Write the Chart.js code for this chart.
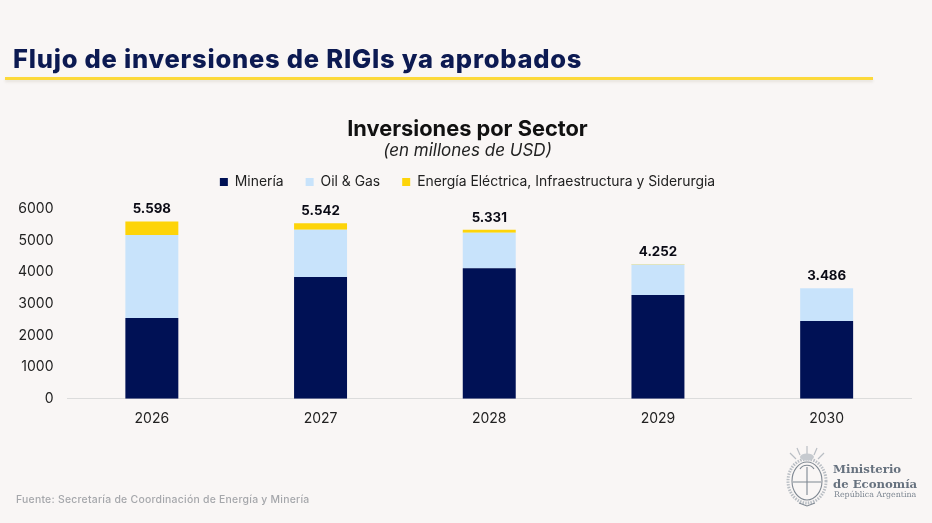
<!DOCTYPE html>
<html lang="es">
<head>
<meta charset="utf-8">
<title>Flujo de inversiones de RIGIs ya aprobados</title>
<script src="https://cdn.jsdelivr.net/npm/chart.js@4"></script>
<style>
html,body{margin:0;padding:0;width:932px;height:523px;overflow:hidden;background:#f9f6f5;font-family:Inter,"Open Sans",sans-serif}
#c{position:absolute;left:0;top:0}
#h{position:absolute;left:13px;top:43px;font:800 25.5px Inter,sans-serif;color:#0c1a52;white-space:nowrap;letter-spacing:.77px}
#rule{position:absolute;left:5px;top:77px;width:868px;height:3px;background:#fcd93a;box-shadow:0 2px 3px rgba(120,110,80,.14)}
#src{position:absolute;left:16px;top:493px;font:500 10.4px Inter,sans-serif;color:#a5a7ab;letter-spacing:.26px;white-space:nowrap}
#logo{position:absolute;left:785px;top:445px}
#m1,#m2,#m3{position:absolute;left:833px;font-family:"DejaVu Serif","Liberation Serif",serif;color:#67727f;white-space:nowrap}
#m1,#m2{font-weight:700;font-size:11.7px}
#m1{top:462px}#m2{top:477px}#m3{top:490px;font-size:7.9px;color:#7b8590;left:834px}
</style>
</head>
<body>
<canvas id="c" width="932" height="523"></canvas>
<div id="h">Flujo de inversiones de RIGIs ya aprobados</div>
<div id="rule"></div>
<div id="src">Fuente: Secretaría de Coordinación de Energía y Minería</div>
<svg id="logo" width="44" height="66" viewBox="0 0 44 66" fill="none">
<g stroke="#b9bec4" stroke-width="1.2">
<path d="M22 1V9M12 3l3 7M32 3l-3 7M5 8l6 6M39 8l-6 6"/>
<ellipse cx="22" cy="36" rx="19" ry="22" stroke-width="3" stroke-dasharray="1.5 1.2"/>
</g>
<g stroke="#7f8892" stroke-width="1.1">
<ellipse cx="22" cy="36" rx="15" ry="19"/>
<path d="M8 37H36M22 22V50M15 24c3-5 11-5 14 0"/>
<path d="M14 58l8 3 8-3"/>
</g>
<ellipse cx="22" cy="12" rx="7" ry="3.5" fill="#c6cacf"/>
</svg>
<div id="m1">Ministerio</div>
<div id="m2">de Economía</div>
<div id="m3">República Argentina</div>
<script>
const years = ['2026','2027','2028','2029','2030'];
const mineria = [2550,3845,4115,3275,2450];
const oilGas = [2620,1490,1125,965,1036];
const energia = [428,207,91,12,0];
const totals = ['5.598','5.542','5.331','4.252','3.486'];
const yTicks = [0,1000,2000,3000,4000,5000,6000];

const totalLabels = {
  id:'totalLabels',
  beforeInit(chart){
    chart.ctx.letterSpacing = '0.3px';
    const fit = chart.legend.fit;
    chart.legend.fit = function(){ fit.call(this); this.height += 9.7; };
  },
  afterDatasetsDraw(chart){
    const {ctx,scales:{x,y}} = chart;
    ctx.save();
    ctx.font = '700 13.3px Inter, sans-serif';
    ctx.fillStyle = '#0a0a14';
    ctx.textAlign = 'center';
    ctx.textBaseline = 'alphabetic';
    totals.forEach((t,i)=>{
      const sum = mineria[i]+oilGas[i]+energia[i];
      ctx.fillText(t, x.getPixelForValue(i), y.getPixelForValue(sum)-8);
    });
    ctx.restore();
  }
};

Chart.defaults.font.family = 'Inter, sans-serif';
new Chart(document.getElementById('c'),{
  type:'bar',
  data:{labels:years,datasets:[
    {label:'Minería',data:mineria,backgroundColor:'#001155'},
    {label:'Oil & Gas',data:oilGas,backgroundColor:'#c8e3fb'},
    {label:'Energía Eléctrica, Infraestructura y Siderurgia',data:energia,backgroundColor:'#fdd409'}
  ]},
  plugins:[totalLabels],
  options:{
    responsive:false,animation:false,
    devicePixelRatio:1,
    layout:{padding:{top:116.5,right:21,bottom:91.5,left:24}},
    datasets:{bar:{barPercentage:.314,categoryPercentage:1}},
    plugins:{
      tooltip:{enabled:false},
      title:{display:true,text:'Inversiones por Sector',color:'#111',font:{size:21.8,weight:'700'},padding:{top:0,bottom:-2}},
      subtitle:{display:true,text:'(en millones de USD)',color:'#222',font:{size:17,style:'italic',weight:'400'},padding:{top:0,bottom:-8}},
      legend:{position:'top',labels:{boxWidth:8,boxHeight:8,padding:22,color:'#222',font:{size:13.9}}}
    },
    scales:{
      x:{stacked:true,grid:{display:false},border:{color:'#dcdcdc'},
         ticks:{color:'#222',font:{size:14},padding:4,maxRotation:0}},
      y:{stacked:true,min:0,max:6000,grid:{display:false},border:{display:false},
         afterBuildTicks(s){s.ticks=yTicks.map(v=>({value:v}));},
         afterFit(s){s.width=43.5;s._computeLabelArea=()=>undefined;},
         ticks:{color:'#222',font:{size:14},padding:6,callback:v=>String(v)}}
    }
  }
});
</script>
</body>
</html>
